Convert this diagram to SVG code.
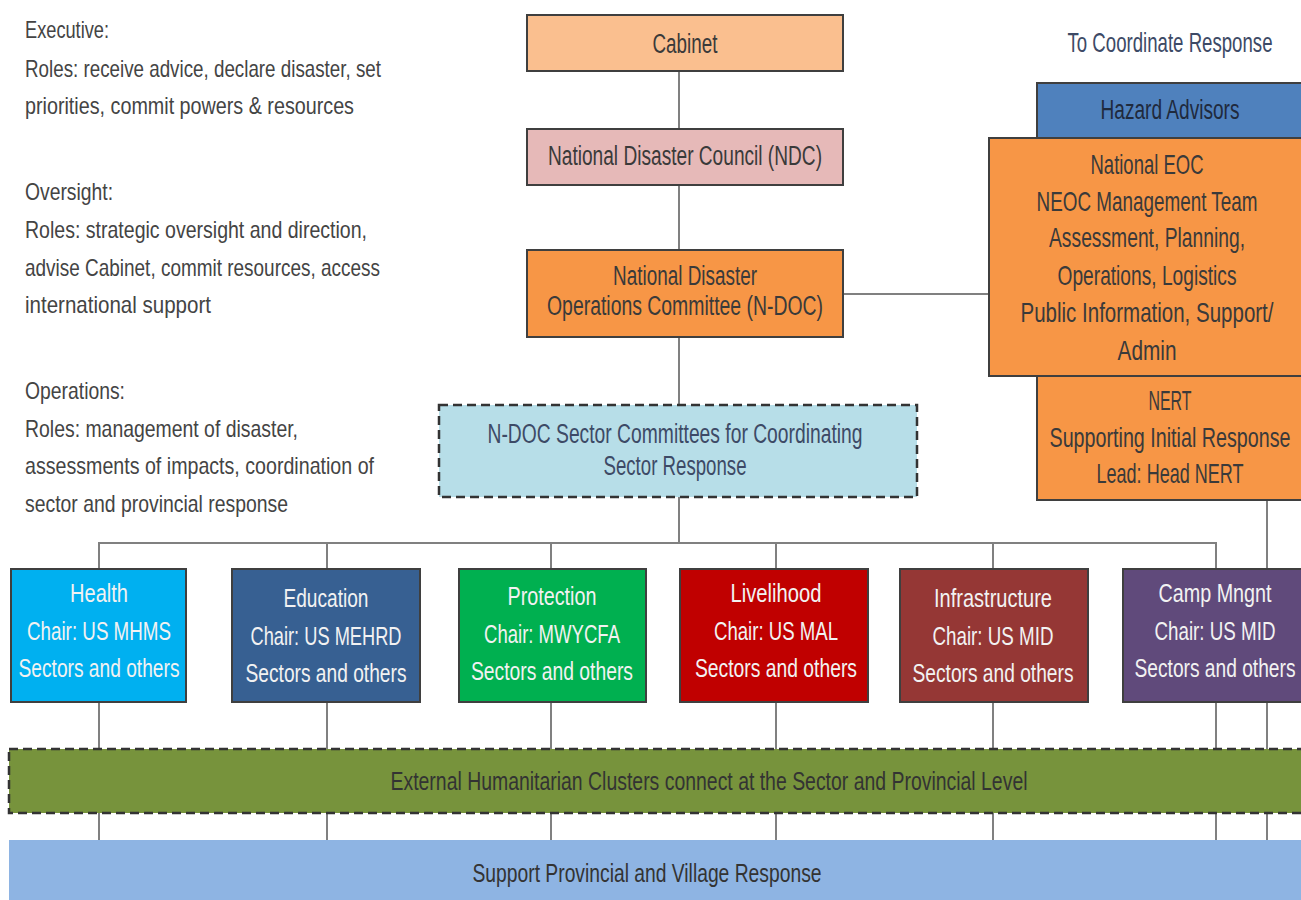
<svg xmlns="http://www.w3.org/2000/svg" width="1301" height="900" viewBox="0 0 1301 900">
<style>
text{font-family:"Liberation Sans",Arial,sans-serif}
.l{font-size:24px;fill:#444}
.b{font-size:27px;fill:#3a3a3a;text-anchor:middle}
.n{font-size:21px;fill:#3a3a3a;text-anchor:middle}
.s{font-size:26px;fill:#f2f2f2;text-anchor:middle}
.sn{font-size:20px;fill:#f2f2f2;text-anchor:middle}
.box{stroke:#3f3f3f;stroke-width:2}
.dash{stroke:#333;stroke-width:2.5;stroke-dasharray:9 5}
.c{stroke:#808080;stroke-width:2;fill:none}
</style>
<rect width="1301" height="900" fill="#fff"/>
<g id="labels">
<text class="l" x="25" y="38" textLength="84" lengthAdjust="spacingAndGlyphs">Executive:</text>
<text class="l" x="25" y="77" textLength="356" lengthAdjust="spacingAndGlyphs">Roles: receive advice, declare disaster, set</text>
<text class="l" x="25" y="114" textLength="329" lengthAdjust="spacingAndGlyphs">priorities, commit powers &amp; resources</text>
<text class="l" x="25" y="200" textLength="88" lengthAdjust="spacingAndGlyphs">Oversight:</text>
<text class="l" x="25" y="238" textLength="342" lengthAdjust="spacingAndGlyphs">Roles: strategic oversight and direction,</text>
<text class="l" x="25" y="276" textLength="355" lengthAdjust="spacingAndGlyphs">advise Cabinet, commit resources, access</text>
<text class="l" x="25" y="313" textLength="186" lengthAdjust="spacingAndGlyphs">international support</text>
<text class="l" x="25" y="399" textLength="100" lengthAdjust="spacingAndGlyphs">Operations:</text>
<text class="l" x="25" y="437" textLength="273" lengthAdjust="spacingAndGlyphs">Roles: management of disaster,</text>
<text class="l" x="25" y="474" textLength="349" lengthAdjust="spacingAndGlyphs">assessments of impacts, coordination of</text>
<text class="l" x="25" y="512" textLength="263" lengthAdjust="spacingAndGlyphs">sector and provincial response</text>
<text class="n" transform="translate(1170 52) scale(1 1.28)" x="0" y="0" textLength="205" lengthAdjust="spacingAndGlyphs" style="fill:#3d4a66">To Coordinate Response</text>
</g>
<g id="connectors">
<line class="c" x1="679" y1="71" x2="679" y2="129"/>
<line class="c" x1="679" y1="185" x2="679" y2="250"/>
<line class="c" x1="679" y1="337" x2="679" y2="405"/>
<line class="c" x1="679" y1="497" x2="679" y2="543"/>
<line class="c" x1="843" y1="294" x2="989" y2="294"/>
<polyline class="c" points="99,569 99,543 1216,543 1216,569"/>
<line class="c" x1="327" y1="543" x2="327" y2="569"/>
<line class="c" x1="551" y1="543" x2="551" y2="569"/>
<line class="c" x1="776" y1="543" x2="776" y2="569"/>
<line class="c" x1="993" y1="543" x2="993" y2="569"/>
<line class="c" x1="1267" y1="500" x2="1267" y2="840"/>
<line class="c" x1="99" y1="702" x2="99" y2="840"/>
<line class="c" x1="327" y1="702" x2="327" y2="840"/>
<line class="c" x1="551" y1="702" x2="551" y2="840"/>
<line class="c" x1="776" y1="702" x2="776" y2="840"/>
<line class="c" x1="993" y1="702" x2="993" y2="840"/>
<line class="c" x1="1216" y1="702" x2="1216" y2="840"/>
</g>
<g id="cabinet">
<rect class="box" x="527" y="15" width="316" height="56" fill="#FABF8F"/>
<text class="b" x="685" y="53" textLength="65" lengthAdjust="spacingAndGlyphs">Cabinet</text>
</g>
<g id="ndc">
<rect class="box" x="527" y="129" width="316" height="56" fill="#E6B9B8"/>
<text class="b" x="685" y="165" textLength="274" lengthAdjust="spacingAndGlyphs">National Disaster Council (NDC)</text>
</g>
<g id="ndoc">
<rect class="box" x="527" y="250" width="316" height="87" fill="#F79646"/>
<text class="b" x="685" y="285" textLength="144" lengthAdjust="spacingAndGlyphs">National Disaster</text>
<text class="b" x="685" y="315" textLength="276" lengthAdjust="spacingAndGlyphs">Operations Committee (N-DOC)</text>
</g>
<g id="sector-committees">
<rect class="dash" x="439" y="405" width="478" height="92" fill="#B7DEE8"/>
<text class="b" x="675" y="443" textLength="375" lengthAdjust="spacingAndGlyphs" style="fill:#3d4a66">N-DOC Sector Committees for Coordinating</text>
<text class="b" x="675" y="475" textLength="143" lengthAdjust="spacingAndGlyphs" style="fill:#3d4a66">Sector Response</text>
</g>
<g id="hazard">
<rect class="box" x="1037" y="83" width="270" height="55" fill="#4F81BD"/>
<text class="b" x="1170" y="119" textLength="139" lengthAdjust="spacingAndGlyphs" style="fill:#1f2a3d">Hazard Advisors</text>
</g>
<g id="neoc">
<rect class="box" x="989" y="138" width="318" height="238" fill="#F79646"/>
<text class="n" transform="translate(1147 174) scale(1 1.28)" x="0" y="0" textLength="113" lengthAdjust="spacingAndGlyphs">National EOC</text>
<text class="n" transform="translate(1147 211) scale(1 1.28)" x="0" y="0" textLength="221" lengthAdjust="spacingAndGlyphs">NEOC Management Team</text>
<text class="n" transform="translate(1147 247) scale(1 1.28)" x="0" y="0" textLength="196" lengthAdjust="spacingAndGlyphs">Assessment, Planning,</text>
<text class="n" transform="translate(1147 285) scale(1 1.28)" x="0" y="0" textLength="179" lengthAdjust="spacingAndGlyphs">Operations, Logistics</text>
<text class="n" transform="translate(1147 322) scale(1 1.28)" x="0" y="0" textLength="253" lengthAdjust="spacingAndGlyphs">Public Information, Support/</text>
<text class="n" transform="translate(1147 360) scale(1 1.28)" x="0" y="0" textLength="59" lengthAdjust="spacingAndGlyphs">Admin</text>
</g>
<g id="nert">
<rect class="box" x="1037" y="376" width="270" height="124" fill="#F79646"/>
<text class="n" transform="translate(1170 410) scale(1 1.28)" x="0" y="0" textLength="43" lengthAdjust="spacingAndGlyphs">NERT</text>
<text class="n" transform="translate(1170 447) scale(1 1.42)" x="0" y="0" textLength="241" lengthAdjust="spacingAndGlyphs" style="font-size:19px">Supporting Initial Response</text>
<text class="n" transform="translate(1170 483) scale(1 1.28)" x="0" y="0" textLength="147" lengthAdjust="spacingAndGlyphs">Lead: Head NERT</text>
</g>
<g id="health">
<rect class="box" x="11" y="569" width="175" height="133" fill="#00B0F0"/>
<text class="s" x="99" y="602" textLength="58" lengthAdjust="spacingAndGlyphs">Health</text>
<text class="s" x="99" y="640" textLength="144" lengthAdjust="spacingAndGlyphs">Chair: US MHMS</text>
<text class="s" x="99" y="677" textLength="161" lengthAdjust="spacingAndGlyphs">Sectors and others</text>
</g>
<g id="education">
<rect class="box" x="232" y="569" width="188" height="133" fill="#376092"/>
<text class="s" x="326" y="607" textLength="85" lengthAdjust="spacingAndGlyphs">Education</text>
<text class="s" x="326" y="645" textLength="151" lengthAdjust="spacingAndGlyphs">Chair: US MEHRD</text>
<text class="s" x="326" y="682" textLength="161" lengthAdjust="spacingAndGlyphs">Sectors and others</text>
</g>
<g id="protection">
<rect class="box" x="459" y="569" width="187" height="133" fill="#00B050"/>
<text class="s" x="552" y="605" textLength="89" lengthAdjust="spacingAndGlyphs">Protection</text>
<text class="s" x="552" y="643" textLength="136" lengthAdjust="spacingAndGlyphs">Chair: MWYCFA</text>
<text class="s" x="552" y="680" textLength="162" lengthAdjust="spacingAndGlyphs">Sectors and others</text>
</g>
<g id="livelihood">
<rect class="box" x="680" y="569" width="188" height="133" fill="#C00000"/>
<text class="s" x="776" y="602" textLength="91" lengthAdjust="spacingAndGlyphs">Livelihood</text>
<text class="s" x="776" y="640" textLength="124" lengthAdjust="spacingAndGlyphs">Chair: US MAL</text>
<text class="s" x="776" y="677" textLength="162" lengthAdjust="spacingAndGlyphs">Sectors and others</text>
</g>
<g id="infrastructure">
<rect class="box" x="900" y="569" width="188" height="133" fill="#953735"/>
<text class="s" x="993" y="607" textLength="118" lengthAdjust="spacingAndGlyphs">Infrastructure</text>
<text class="s" x="993" y="645" textLength="121" lengthAdjust="spacingAndGlyphs">Chair: US MID</text>
<text class="s" x="993" y="682" textLength="161" lengthAdjust="spacingAndGlyphs">Sectors and others</text>
</g>
<g id="camp">
<rect class="box" x="1123" y="569" width="184" height="133" fill="#604A7B"/>
<text class="sn" transform="translate(1215 602) scale(1 1.3)" x="0" y="0" textLength="113" lengthAdjust="spacingAndGlyphs">Camp Mngnt</text>
<text class="sn" transform="translate(1215 640) scale(1 1.3)" x="0" y="0" textLength="121" lengthAdjust="spacingAndGlyphs">Chair: US MID</text>
<text class="sn" transform="translate(1215 677) scale(1 1.3)" x="0" y="0" textLength="161" lengthAdjust="spacingAndGlyphs">Sectors and others</text>
</g>
<g id="clusters">
<rect class="dash" x="9" y="749" width="1300" height="64" fill="#77933C"/>
<text class="b" x="709" y="790" textLength="637" lengthAdjust="spacingAndGlyphs" style="font-size:26px;fill:#333">External Humanitarian Clusters connect at the Sector and Provincial Level</text>
</g>
<g id="support">
<rect x="9" y="840" width="1300" height="62" fill="#8EB4E3"/>
<text class="b" x="647" y="882" textLength="349" lengthAdjust="spacingAndGlyphs" style="font-size:26px;fill:#333">Support Provincial and Village Response</text>
</g>
</svg>
